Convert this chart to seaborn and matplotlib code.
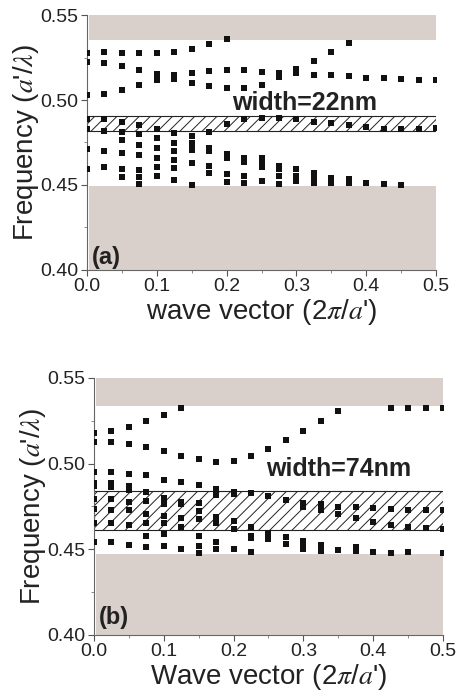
import numpy as np
import pandas as pd
import matplotlib
matplotlib.use("Agg")
import matplotlib.pyplot as plt
from matplotlib.patches import Rectangle
from matplotlib.ticker import MultipleLocator, FormatStrFormatter
import seaborn as sns

nan = np.nan

# wave vector grid (2*pi/a')
k_values = [0.0, 0.025, 0.05, 0.075, 0.1, 0.125, 0.15, 0.175, 0.2, 0.225, 0.25,
            0.275, 0.3, 0.325, 0.35, 0.375, 0.4, 0.425, 0.45, 0.475, 0.5]

# ---- panel (a): width = 22 nm ----
a_top = [0.5278, 0.5280, 0.5275, 0.5275, 0.5275, 0.5285, 0.5302, 0.5331, 0.5357, nan, nan,
         nan, nan, nan, nan, nan, nan, nan, nan, nan, nan]
a_up1 = [0.5224, 0.5220, 0.5200, 0.5175, 0.5155, 0.5145, 0.5160, 0.5170, 0.5174, 0.5174, 0.5164,
         0.5156, 0.5156, 0.5150, 0.5145, 0.5140, 0.5131, 0.5131, 0.5125, 0.5120, 0.5115]
a_up2 = [0.5027, 0.5033, 0.5057, 0.5086, 0.5116, 0.5125, 0.5102, 0.5083, 0.5069, 0.5069, 0.5091,
         0.5136, 0.5180, 0.5228, 0.5284, 0.5336, nan, nan, nan, nan, nan]
a_mid = [0.4886, 0.4886, 0.4871, 0.4853, 0.4831, 0.4808, 0.4788, 0.4812, 0.4857, 0.4886, 0.4896,
         0.4896, 0.4886, 0.4871, 0.4863, 0.4851, 0.4843, 0.4831, 0.4831, 0.4831, 0.4837]
a_low1 = [0.4827, 0.4818, 0.4814, 0.4802, 0.4778, 0.4749, 0.4749, 0.4720, 0.4684, 0.4660, 0.4661,
          0.4612, 0.4592, 0.4569, 0.4544, 0.4534, 0.4514, 0.4504, 0.4500, nan, nan]
a_low2 = [0.4710, 0.4700, 0.4763, 0.4735, 0.4720, 0.4700, 0.4730, 0.4700, 0.4660, 0.4635, 0.4632,
          0.4592, 0.4553, 0.4544, 0.4524, 0.4514, nan, nan, nan, nan, nan]
a_low3 = [0.4596, 0.4606, 0.4690, 0.4676, 0.4660, 0.4647, 0.4708, 0.4612, 0.4567, 0.4550, 0.4608,
          0.4553, 0.4524, 0.4514, 0.4510, nan, nan, nan, nan, nan, nan]
a_low4 = [nan, nan, 0.4596, 0.4588, 0.4606, 0.4598, 0.4631, 0.4569, 0.4518, 0.4510, 0.4524,
          0.4504, nan, nan, nan, nan, nan, nan, nan, nan, nan]
a_low5 = [nan, nan, 0.4547, 0.4549, 0.4553, 0.4530, 0.4500, nan, nan, nan, nan,
          nan, nan, nan, nan, nan, nan, nan, nan, nan, nan]
a_low6 = [nan, nan, nan, 0.4504, nan, nan, nan, nan, nan, nan, nan,
          nan, nan, nan, nan, nan, nan, nan, nan, nan, nan]

# ---- panel (b): width = 74 nm ----
b_top = [0.5178, 0.5191, 0.5212, 0.5249, 0.5284, 0.5322, nan, nan, nan, nan, nan,
         nan, nan, nan, nan, nan, nan, nan, nan, nan, nan]
b_up = [0.5127, 0.5124, 0.5114, 0.5095, 0.5071, 0.5046, 0.5027, 0.5010, 0.5014, 0.5042, 0.5087,
        0.5139, 0.5193, 0.5249, 0.5309, nan, nan, 0.5322, 0.5322, 0.5322, 0.5322]
b_mid1 = [0.4952, 0.4952, 0.4942, 0.4931, 0.4907, 0.4892, 0.4875, 0.4853, 0.4834, 0.4826, 0.4811,
          0.4786, 0.4768, 0.4763, 0.4749, 0.4749, 0.4743, 0.4736, 0.4732, 0.4732, 0.4732]
b_mid2 = [0.4888, 0.4888, 0.4869, 0.4836, 0.4801, 0.4778, 0.4772, 0.4815, 0.4824, nan, nan,
          nan, 0.4749, 0.4730, 0.4705, 0.4682, 0.4662, 0.4641, 0.4631, 0.4624, 0.4618]
b_mid3 = [0.4870, 0.4863, 0.4849, 0.4782, 0.4766, 0.4763, 0.4724, 0.4689, 0.4666, 0.4633, 0.4595,
          0.4570, 0.4550, 0.4525, 0.4498, 0.4512, 0.4483, 0.4479, 0.4483, nan, 0.4479]
b_low1 = [0.4795, 0.4792, 0.4776, 0.4705, 0.4695, 0.4685, 0.4676, 0.4656, 0.4618, 0.4579, 0.4560,
          0.4531, 0.4531, 0.4492, nan, 0.4492, nan, nan, nan, nan, nan]
b_low2 = [0.4735, 0.4730, 0.4728, 0.4651, 0.4656, 0.4631, 0.4579, 0.4541, 0.4502, 0.4564, nan,
          nan, 0.4502, nan, nan, nan, nan, nan, nan, nan, nan]
b_low3 = [0.4656, 0.4651, 0.4643, 0.4579, 0.4589, 0.4502, 0.4521, 0.4502, nan, 0.4483, nan,
          nan, nan, nan, nan, nan, nan, nan, nan, nan, nan]
b_low4 = [0.4545, 0.4541, 0.4527, 0.4516, 0.4521, nan, 0.4477, nan, nan, nan, nan,
          nan, nan, nan, nan, nan, nan, nan, nan, nan, nan]

# gaps (gray) and hatched guided band: (low, high) in a'/lambda
a_gap_top = (0.5352, 0.55)
a_gap_bottom = (0.40, 0.4492)
a_hatch = (0.4818, 0.4903)
b_gap_top = (0.5337, 0.55)
b_gap_bottom = (0.40, 0.4470)
b_hatch = (0.4615, 0.4840)


def band_frame(bands):
    rows = []
    for name, freqs in bands.items():
        for k, f in zip(k_values, freqs):
            if not np.isnan(f):
                rows.append((name, k, f))
    return pd.DataFrame(rows, columns=["band", "k", "freq"])


sns.set_theme(style="ticks")
plt.rcParams["font.family"] = ["Liberation Sans", "DejaVu Sans"]
plt.rcParams["mathtext.fontset"] = "stix"
plt.rcParams["hatch.linewidth"] = 0.7

GAP_COLOR = "#d9d0cb"

fig = plt.figure(figsize=(4.58, 6.98), dpi=100)
ax_a = fig.add_axes([0.190, 0.6132, 0.762, 0.3653])
ax_b = fig.add_axes([0.2052, 0.0903, 0.762, 0.3682])

panels = [
    (ax_a, {"top": a_top, "up1": a_up1, "up2": a_up2, "mid": a_mid, "l1": a_low1,
            "l2": a_low2, "l3": a_low3, "l4": a_low4, "l5": a_low5, "l6": a_low6},
     a_gap_top, a_gap_bottom, a_hatch, "width=22nm", (0.208, 0.4941), "(a)", 0.4035,
     "wave vector (2$\\pi$/$a$')"),
    (ax_b, {"top": b_top, "up": b_up, "m1": b_mid1, "m2": b_mid2, "m3": b_mid3,
            "l1": b_low1, "l2": b_low2, "l3": b_low3, "l4": b_low4},
     b_gap_top, b_gap_bottom, b_hatch, "width=74nm", (0.247, 0.4925), "(b)", 0.4062,
     "Wave vector (2$\\pi$/$a$')"),
]

for ax, bands, gtop, gbot, hatch, wtext, wpos, plabel, py, xlabel in panels:
    ax.axhspan(gtop[0], gtop[1], xmin=0.005, color=GAP_COLOR, lw=0, zorder=1)
    ax.axhspan(gbot[0], gbot[1], xmin=0.005, color=GAP_COLOR, lw=0, zorder=1)
    ax.add_patch(Rectangle((0, hatch[0]), 0.5, hatch[1] - hatch[0], facecolor="white",
                           edgecolor="#222222", hatch="///", lw=0.8, zorder=2))
    df = band_frame(bands)
    sns.scatterplot(data=df, x="k", y="freq", marker="s", color="#111111", s=13,
                    linewidth=0, ax=ax, zorder=3, legend=False)
    ax.set_xlim(0, 0.5)
    ax.set_ylim(0.40, 0.55)
    ax.xaxis.set_major_locator(MultipleLocator(0.1))
    ax.xaxis.set_minor_locator(MultipleLocator(0.05))
    ax.yaxis.set_major_locator(MultipleLocator(0.05))
    ax.yaxis.set_minor_locator(MultipleLocator(0.025))
    ax.xaxis.set_major_formatter(FormatStrFormatter("%.1f"))
    ax.yaxis.set_major_formatter(FormatStrFormatter("%.2f"))
    ax.tick_params(which="major", direction="out", length=4, width=0.8,
                   color="#555555", labelsize=14, labelcolor="#222222", pad=2)
    ax.tick_params(which="minor", direction="out", length=2, width=0.6, color="#777777")
    for side in ["top", "right"]:
        ax.spines[side].set_visible(False)
    for side in ["left", "bottom"]:
        ax.spines[side].set_color("#666666")
        ax.spines[side].set_linewidth(0.8)
    ax.set_xlabel(xlabel, fontsize=20, color="#222222", labelpad=1)
    ax.set_ylabel("Frequency ($a$'/$\\lambda$)", fontsize=20, color="#222222", labelpad=0)
    ax.text(wpos[0], wpos[1], wtext, fontsize=18, fontweight="bold", color="#222222",
            va="baseline", ha="left", zorder=4)
    ax.text(0.007, py, plabel, fontsize=17, fontweight="bold", color="#222222",
            va="baseline", ha="left", zorder=4)

fig.savefig("out.png", dpi=100)
